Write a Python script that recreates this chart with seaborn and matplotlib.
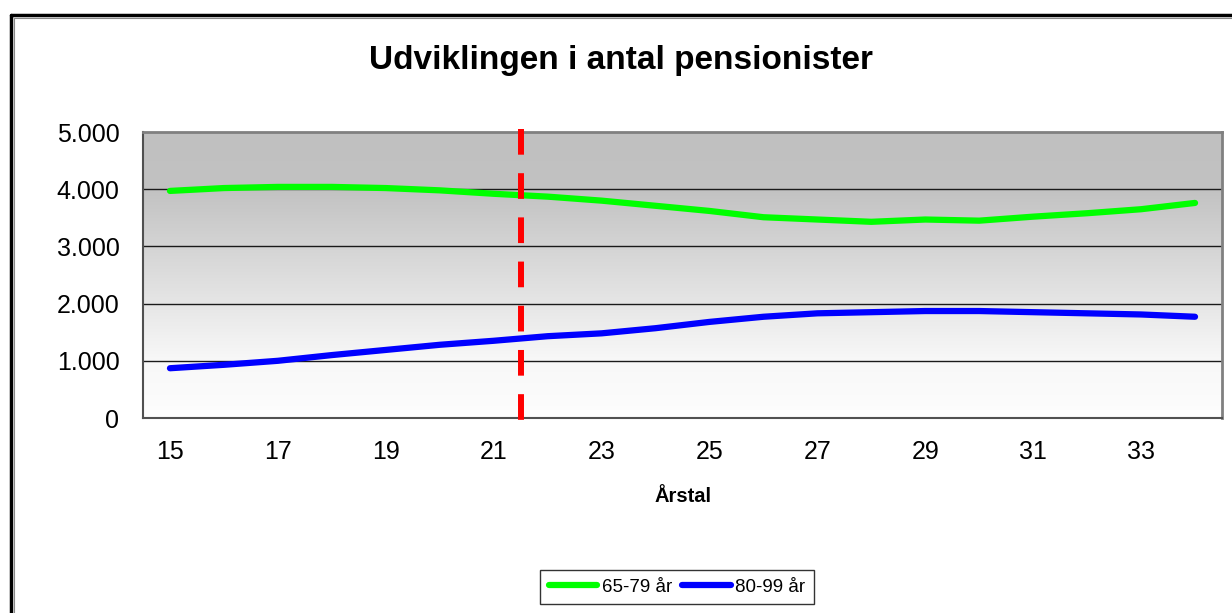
import numpy as np
import pandas as pd
import matplotlib
matplotlib.use("Agg")
import matplotlib.pyplot as plt
import seaborn as sns
from matplotlib.lines import Line2D
from matplotlib.colors import LinearSegmentedColormap

# Data
years = [15, 16, 17, 18, 19, 20, 21, 22, 23, 24, 25, 26, 27, 28, 29, 30, 31, 32, 33, 34]
age_65_79 = [3970, 4020, 4040, 4040, 4020, 3980, 3920, 3870, 3800, 3710, 3620, 3510,
             3470, 3430, 3470, 3450, 3520, 3580, 3650, 3760]
age_80_99 = [870, 930, 1000, 1100, 1190, 1280, 1350, 1430, 1480, 1570, 1680, 1770,
             1830, 1850, 1870, 1870, 1850, 1830, 1810, 1770]
series_names = ["65-79 år", "80-99 år"]
series_colors = ["#00ff00", "#0000ff"]
y_ticks = [0, 1000, 2000, 3000, 4000, 5000]
y_labels = ["0", "1.000", "2.000", "3.000", "4.000", "5.000"]
split_after = 21  # red dashed marker between 21 and 22

sns.set_style("white")
plt.rcParams["font.family"] = ["Liberation Sans", "DejaVu Sans"]
plt.rcParams["text.color"] = "black"
plt.rcParams["xtick.color"] = "black"
plt.rcParams["ytick.color"] = "black"

df = pd.DataFrame({
    "pos": list(range(len(years))) * 2,
    "value": age_65_79 + age_80_99,
    "serie": [series_names[0]] * len(years) + [series_names[1]] * len(years),
})

fig = plt.figure(figsize=(12.32, 6.13), dpi=100)
ax = fig.add_axes([143 / 1232, 1 - 418 / 613, (1222 - 143) / 1232, (418 - 132) / 613])

n = len(years)
ax.set_xlim(-0.5, n - 0.5)
ax.set_ylim(0, 5000)

# gradient background (grey on top fading to white)
grad = np.linspace(0, 1, 256).reshape(-1, 1)
cmap = LinearSegmentedColormap.from_list("bg", [(0, "#fdfdfd"), (0.2, "#f8f8f8"),
                                                (0.8, "#c2c2c2"), (1, "#c0c0c0")])
ax.imshow(grad, aspect="auto", cmap=cmap, origin="lower",
          extent=[-0.5, n - 0.5, 0, 5000], zorder=0)

for yv in y_ticks[1:-1]:
    ax.axhline(yv, color="#1a1a1a", lw=1.0, zorder=1)

sns.lineplot(data=df, x="pos", y="value", hue="serie", palette=series_colors,
             lw=4.5, ax=ax, legend=False, zorder=3, solid_capstyle="round")

split_pos = years.index(split_after) + 0.5
ax.plot([split_pos, split_pos], [5050, -50], color="#ff0000", lw=4.3,
        dashes=(4.3, 3.1), clip_on=False, zorder=4, dash_capstyle="butt")

# axes styling
for s in ["top", "right"]:
    ax.spines[s].set_color("#808080")
    ax.spines[s].set_linewidth(2)
ax.spines["left"].set_color("#505050")
ax.spines["bottom"].set_color("#505050")
ax.spines["left"].set_linewidth(1.5)
ax.spines["bottom"].set_linewidth(1.5)

ax.set_yticks(y_ticks)
ax.set_yticklabels(y_labels, fontsize=18)
ax.set_xticks(np.arange(-0.5, n, 1.0))
ax.set_xticklabels([])
ax.set_xticks(list(range(0, n, 2)), minor=True)
ax.set_xticklabels([str(y) for y in years[::2]], minor=True, fontsize=18)
ax.tick_params(axis="x", which="major", direction="out", length=6, width=1, color="#333333")
ax.tick_params(axis="x", which="minor", length=0, pad=16)
ax.tick_params(axis="y", direction="out", length=6, width=1, color="#333333", pad=11)
ax.set_xlabel("")
ax.set_ylabel("")

fig.text(621 / 1232, 1 - 60 / 613, "Udviklingen i antal pensionister",
         fontsize=24, fontweight="bold", ha="center", va="center")
fig.text(683 / 1232, 1 - 496 / 613, "Årstal", fontsize=14.5, fontweight="bold",
         ha="center", va="center")

handles = [Line2D([0], [0], color=c, lw=4.5, solid_capstyle="round") for c in series_colors]
leg = fig.legend(handles, series_names, loc="center", bbox_to_anchor=(677 / 1232, 1 - 587 / 613),
                 ncol=2, fontsize=13.5, frameon=True, fancybox=False, handlelength=2.6,
                 handletextpad=0.25, columnspacing=0.5, borderpad=0.45)
leg.get_frame().set_edgecolor("black")
leg.get_frame().set_linewidth(1.0)

# outer chart frame (double line)
fig.add_artist(Line2D([11 / 1232, 11 / 1232], [1 - 15 / 613, 0], color="black", lw=2.5))
fig.add_artist(Line2D([11 / 1232, 1.0], [1 - 15 / 613, 1 - 15 / 613], color="black", lw=2.5))
fig.add_artist(Line2D([14 / 1232, 14 / 1232], [1 - 17.5 / 613, 0], color="#888888", lw=0.8))
fig.add_artist(Line2D([14 / 1232, 1.0], [1 - 17.5 / 613, 1 - 17.5 / 613], color="#888888", lw=0.8))

fig.savefig("out.png", dpi=100)
